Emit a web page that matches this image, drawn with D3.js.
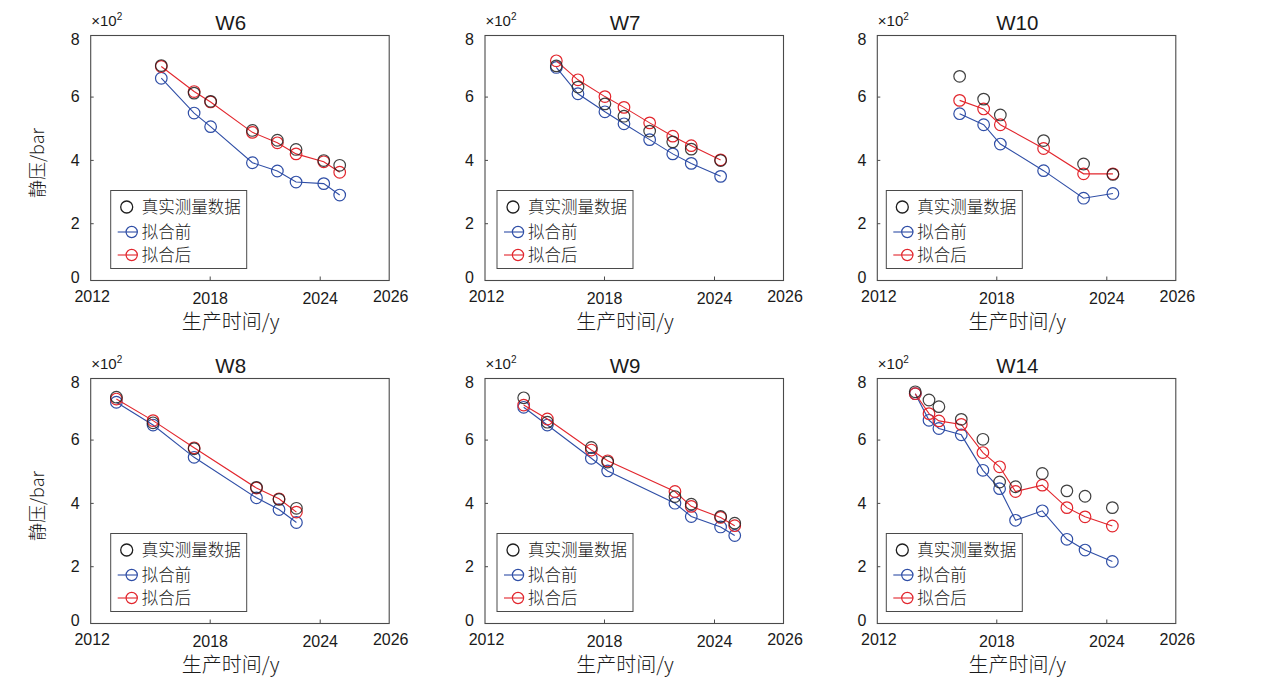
<!DOCTYPE html>
<html><head><meta charset="utf-8">
<script src="https://cdn.jsdelivr.net/npm/d3@7"></script>
<style>body{margin:0;background:#fff;overflow:hidden}</style>
</head><body><svg id="c" width="1270" height="688"></svg>
<script>
// ---- data (pressure ×10² bar vs production time) ----
const wellNames = ["W6", "W7", "W10", "W8", "W9", "W14"];

const w6Years    = [2015.36, 2017.15, 2018.05, 2020.33, 2021.69, 2022.71, 2024.22, 2025.09];
const w6Measured = [6.98, 6.11, 5.85, 4.93, 4.62, 4.33, 3.98, 3.83];
const w6Before   = [6.58, 5.48, 5.05, 3.91, 3.65, 3.30, 3.25, 2.89];
const w6After    = [6.95, 6.16, 5.83, 4.87, 4.54, 4.19, 3.94, 3.61];

const w7Years    = [2015.40, 2016.58, 2018.05, 2019.09, 2020.49, 2021.75, 2022.76, 2024.36];
const w7Measured = [6.97, 6.30, 5.77, 5.38, 4.91, 4.57, 4.34, 3.98];
const w7Before   = [6.92, 6.09, 5.52, 5.14, 4.64, 4.19, 3.89, 3.48];
const w7After    = [7.13, 6.53, 6.00, 5.66, 5.17, 4.75, 4.45, 4.00];

const w10Years    = [2016.00, 2017.31, 2018.22, 2020.58, 2022.76, 2024.36];
const w10Measured = [6.64, 5.92, 5.42, 4.61, 3.87, 3.54];
const w10Before   = [5.46, 5.11, 4.50, 3.66, 2.79, 2.94];
const w10After    = [5.88, 5.61, 5.11, 4.36, 3.56, 3.56];

const w8Years    = [2012.91, 2014.91, 2017.15, 2020.55, 2021.78, 2022.73];
const w8Measured = [7.34, 6.53, 5.71, 4.49, 4.11, 3.83];
const w8Before   = [7.18, 6.46, 5.44, 4.16, 3.79, 3.38];
const w8After    = [7.28, 6.60, 5.74, 4.47, 4.13, 3.71];

const w9Years    = [2013.62, 2014.91, 2017.31, 2018.20, 2021.87, 2022.76, 2024.36, 2025.13];
const w9Measured = [7.32, 6.55, 5.75, 5.29, 4.20, 3.96, 3.57, 3.36];
const w9Before   = [7.02, 6.46, 5.41, 5.01, 3.99, 3.57, 3.24, 2.97];
const w9After    = [7.09, 6.65, 5.67, 5.33, 4.36, 3.89, 3.54, 3.28];

const w14Years    = [2013.58, 2014.33, 2014.87, 2016.09, 2017.27, 2018.18, 2019.05, 2020.51, 2021.85, 2022.84, 2024.33];
const w14Measured = [7.51, 7.25, 7.04, 6.64, 6.01, 4.66, 4.51, 4.93, 4.38, 4.21, 3.85];
const w14Before   = [7.45, 6.61, 6.35, 6.15, 5.03, 4.45, 3.45, 3.75, 2.85, 2.51, 2.15];
const w14After    = [7.45, 6.82, 6.59, 6.48, 5.59, 5.14, 4.36, 4.56, 3.85, 3.56, 3.27];

const xTickLabels = ["2012", "2018", "2024", "2026"];
const yTickLabels = ["0", "2", "4", "6", "8"];
const legendLabels = ["真实测量数据", "拟合前", "拟合后"];
const xTitle = "生产时间/y";
const yTitle = "静压/bar";
const unitLabel = "×10";

// ---- table built from the arrays ----
const panels = [
  {name: wellNames[0], years: w6Years,  measured: w6Measured,  before: w6Before,  after: w6After},
  {name: wellNames[1], years: w7Years,  measured: w7Measured,  before: w7Before,  after: w7After},
  {name: wellNames[2], years: w10Years, measured: w10Measured, before: w10Before, after: w10After},
  {name: wellNames[3], years: w8Years,  measured: w8Measured,  before: w8Before,  after: w8After},
  {name: wellNames[4], years: w9Years,  measured: w9Measured,  before: w9Before,  after: w9After},
  {name: wellNames[5], years: w14Years, measured: w14Measured, before: w14Before, after: w14After}
];

// ---- layout ----
const colLeft = [90.7, 485, 877.3];
const rowTop = [35.5, 378.5];
const W = 298.5, H = 245;
const legendDx = [20, 12, 9];
const BLUE = "#2f4ea6", RED = "#e2262d", BLACK = "#1e1e1e", FRAME = "#4a4a4a", TXT = "#1a1a1a";
const NUM_FONT = "'Liberation Sans', Arial, sans-serif";
const CJK_FONT = "'Noto Sans CJK SC', 'Noto Sans', sans-serif";

const x = d3.scaleLinear().domain([2011.51, 2027.79]).range([0, W]);
const y = d3.scaleLinear().domain([0.19, 7.93]).range([H, 0]);

const svg = d3.select("#c");

panels.forEach((p, i) => {
  const col = i % 3, row = Math.floor(i / 3);
  const g = svg.append("g").attr("transform", `translate(${colLeft[col]},${rowTop[row]})`);

  // inner y axis ticks
  const yInner = yTickLabels.slice(1, -1).map(Number);
  const ya = g.append("g").call(d3.axisLeft(y).tickValues(yInner).tickSizeInner(-3).tickSizeOuter(0).tickPadding(11));
  ya.select(".domain").remove();
  ya.selectAll("line").attr("stroke", FRAME);
  ya.selectAll("text").attr("font-family", NUM_FONT).attr("font-size", 16).attr("fill", TXT);
  // end labels at frame edges
  g.append("text").attr("x", -11).attr("y", H - 3.5).attr("dy", "0.35em").attr("text-anchor", "end")
    .attr("font-family", NUM_FONT).attr("font-size", 16).attr("fill", TXT).text(yTickLabels[0]);
  g.append("text").attr("x", -11).attr("y", 3.5).attr("dy", "0.35em").attr("text-anchor", "end")
    .attr("font-family", NUM_FONT).attr("font-size", 16).attr("fill", TXT).text(yTickLabels[yTickLabels.length - 1]);

  // inner x axis ticks
  const xInner = xTickLabels.slice(1, -1).map(Number);
  const xa = g.append("g").attr("transform", `translate(0,${H})`)
    .call(d3.axisBottom(x).tickValues(xInner).tickFormat(d3.format("d")).tickSizeInner(-4).tickSizeOuter(0).tickPadding(12.6));
  xa.select(".domain").remove();
  xa.selectAll("line").attr("stroke", FRAME);
  xa.selectAll("text").attr("font-family", NUM_FONT).attr("font-size", 16).attr("fill", TXT);
  g.append("text").attr("x", 1.5).attr("y", H + 21).attr("text-anchor", "middle")
    .attr("font-family", NUM_FONT).attr("font-size", 16).attr("fill", TXT).text(xTickLabels[0]);
  g.append("text").attr("x", W + 1.5).attr("y", H + 21).attr("text-anchor", "middle")
    .attr("font-family", NUM_FONT).attr("font-size", 16).attr("fill", TXT).text(xTickLabels[xTickLabels.length - 1]);

  // frame
  g.append("rect").attr("x", 0).attr("y", 0).attr("width", W).attr("height", H)
    .attr("fill", "none").attr("stroke", FRAME).attr("stroke-width", 1.1);

  // title
  g.append("text").attr("x", 140).attr("y", -6).attr("text-anchor", "middle")
    .attr("font-family", NUM_FONT).attr("font-size", 20.5).attr("fill", TXT).text(p.name);
  // unit
  const u = g.append("text").attr("x", 0.5).attr("y", -9.5)
    .attr("font-family", NUM_FONT).attr("font-size", 15).attr("fill", TXT).text(unitLabel);
  u.append("tspan").attr("dy", -6).attr("font-size", 10).text("2");

  // axis titles
  g.append("text").attr("x", 140).attr("y", H + 48.5).attr("text-anchor", "middle")
    .attr("font-family", CJK_FONT).attr("font-weight", 300).attr("font-size", 20).attr("fill", TXT).text(xTitle);
  if (col === 0) {
    g.append("text").attr("transform", `translate(${38 - colLeft[0] + 6},${H / 2 + 5}) rotate(-90)`)
      .attr("text-anchor", "middle").attr("font-family", CJK_FONT).attr("font-weight", 300).attr("font-size", 18)
      .attr("fill", TXT).text(yTitle);
  }

  // series
  const series = [
    {vals: p.before, color: BLUE, line: true},
    {vals: p.after, color: RED, line: true},
    {vals: p.measured, color: BLACK, line: false}
  ];
  series.forEach(s => {
    const pts = p.years.map((yr, k) => [yr, s.vals[k]]);
    if (s.line) {
      g.append("path").datum(pts)
        .attr("d", d3.line().x(d => x(d[0])).y(d => y(d[1])))
        .attr("fill", "none").attr("stroke", s.color).attr("stroke-width", 1.1);
    }
    g.selectAll(null).data(pts).enter().append("circle")
      .attr("cx", d => x(d[0])).attr("cy", d => y(d[1])).attr("r", 5.8)
      .attr("fill", "none").attr("stroke", s.color).attr("stroke-width", 1.2)
      .attr("stroke-opacity", s.line ? 1 : 0.85);
  });

  // legend
  const lg = g.append("g").attr("transform", `translate(${legendDx[col]},${H - 90})`);
  lg.append("rect").attr("width", 136).attr("height", 78).attr("fill", "#fff")
    .attr("stroke", FRAME).attr("stroke-width", 1);
  const rowsY = [16.5, 41.5, 64.5];
  const legColors = [BLACK, BLUE, RED];
  legendLabels.forEach((lab, k) => {
    const ry = rowsY[k];
    if (k === 0) {
      lg.append("circle").attr("cx", 16).attr("cy", ry).attr("r", 6)
        .attr("fill", "none").attr("stroke", BLACK).attr("stroke-width", 1.3);
    } else {
      lg.append("line").attr("x1", 7).attr("x2", 27).attr("y1", ry).attr("y2", ry)
        .attr("stroke", legColors[k]).attr("stroke-width", 1.1);
      lg.append("circle").attr("cx", 21).attr("cy", ry).attr("r", 5.6)
        .attr("fill", "none").attr("stroke", legColors[k]).attr("stroke-width", 1.2);
    }
    lg.append("text").attr("x", 31).attr("y", ry).attr("dy", "0.36em")
      .attr("font-family", CJK_FONT).attr("font-weight", 300).attr("font-size", 16.5).attr("fill", TXT).text(lab);
  });
});
</script>
</body></html>
